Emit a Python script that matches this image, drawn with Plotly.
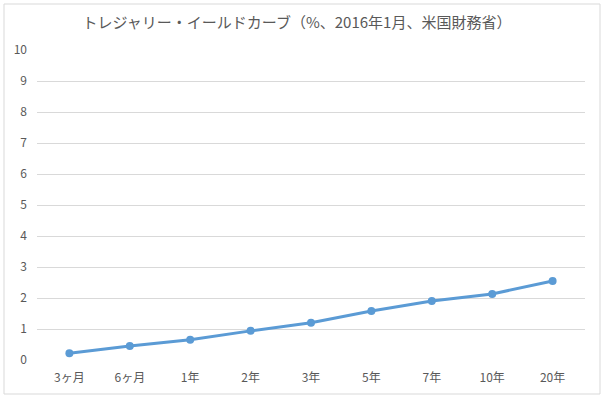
import plotly.graph_objects as go

categories = ["3ヶ月", "6ヶ月", "1年", "2年", "3年", "5年", "7年", "10年", "20年"]
yields = [0.22, 0.45, 0.65, 0.94, 1.20, 1.58, 1.90, 2.13, 2.55]
y_ticks = list(range(0, 11))
title_text = "トレジャリー・イールドカーブ（%、2016年1月、米国財務省）"

W, H = 606, 397
L, R, T, B = 37, 21, 50, 37
pw, ph = W - L - R, H - T - B

fig = go.Figure()
fig.add_trace(go.Scatter(
    x=categories, y=yields, mode="lines+markers",
    line=dict(color="#5B9BD5", width=3),
    marker=dict(color="#5B9BD5", size=8),
    showlegend=False, hoverinfo="x+y",
))

font_family = "Noto Sans CJK JP, Noto Sans, sans-serif"
fig.update_layout(
    width=W, height=H,
    margin=dict(l=L, r=R, t=T, b=B),
    paper_bgcolor="white", plot_bgcolor="white",
    font=dict(family=font_family, color="#595959", size=12),
    title=dict(text=title_text, x=297 / W, xanchor="center", y=1 - 23 / H, yanchor="middle",
               font=dict(size=15, color="#595959", family=font_family)),
    xaxis=dict(type="category", showgrid=False, showline=False, zeroline=False,
               ticks="", tickfont=dict(size=12, color="#595959"), ticklabelstandoff=9),
    yaxis=dict(range=[0, 10], tickvals=y_ticks, showgrid=True, gridcolor="#D9D9D9",
               gridwidth=1, zeroline=False, showline=False, ticks="",
               tickfont=dict(size=12, color="#595959"), ticklabelstandoff=9),
    shapes=[dict(type="rect", xref="paper", yref="paper",
                 x0=(4 - L) / pw, x1=(600 - L) / pw,
                 y0=(H - B - 394) / ph, y1=(H - B - 4) / ph,
                 line=dict(color="#D9D9D9", width=1), fillcolor="rgba(0,0,0,0)", layer="above")],
)

fig.write_html("out.html", config={"displayModeBar": False},
               post_script="document.body.style.margin='0';")
